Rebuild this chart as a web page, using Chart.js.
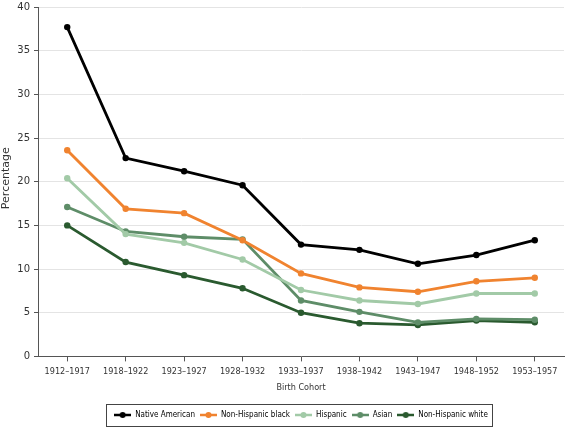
<!DOCTYPE html>
<html>
<head>
<meta charset="utf-8">
<script src="https://cdn.jsdelivr.net/npm/chart.js@4"></script>
<style>
  html, body { margin: 0; padding: 0; background: #fff; }
  #wrap { width: 569px; height: 430px; }
</style>
</head>
<body>
<div id="wrap"><canvas id="chart"></canvas></div>
<script>
// cohorts on the x axis
const cohorts = ['1912–1917', '1918–1922', '1923–1927', '1928–1932', '1933–1937',
  '1938–1942', '1943–1947', '1948–1952', '1953–1957'];

// percentages
const nativeAmerican = [37.7, 22.7, 21.2, 19.6, 12.8, 12.2, 10.6, 11.6, 13.3];
const nhBlack = [23.6, 16.9, 16.4, 13.3, 9.5, 7.9, 7.4, 8.6, 9.0];
const hispanic = [20.4, 14.0, 13.0, 11.1, 7.6, 6.4, 6.0, 7.2, 7.2];
const asian = [17.1, 14.3, 13.7, 13.4, 6.4, 5.1, 3.9, 4.3, 4.2];
const nhWhite = [15.0, 10.8, 9.3, 7.8, 5.0, 3.8, 3.6, 4.1, 3.9];

const yTicks = [0, 5, 10, 15, 20, 25, 30, 35, 40];

// little "line with a dot" marker for the legend
function marker(color) {
  const c = document.createElement('canvas');
  c.width = 17; c.height = 8;
  const g = c.getContext('2d');
  g.strokeStyle = color;
  g.lineWidth = 2.5;
  g.beginPath(); g.moveTo(0, 4); g.lineTo(17, 4); g.stroke();
  g.fillStyle = color;
  g.beginPath(); g.arc(8.5, 4, 3, 0, Math.PI * 2); g.fill();
  return c;
}

function series(label, data, color) {
  return {
    label: label,
    data: data,
    borderColor: color,
    backgroundColor: color,
    borderWidth: 2.8,
    pointRadius: 3.2,
    pointStyle: 'circle',
    legendMarker: marker(color),
    pointBackgroundColor: color,
    pointBorderWidth: 0,
    tension: 0
  };
}

// legend sits under the plot area (not the whole canvas) and has a frame
const legendBox = {
  id: 'legendBox',
  afterUpdate(chart) {
    const lg = chart.legend;
    const shift = (chart.chartArea.left + chart.chartArea.right) / 2 - (lg.left + lg.right) / 2;
    lg.left += shift;
    lg.right += shift;
    // adjustHitBoxes adds to top, so keep the old tops
    const tops = lg.legendHitBoxes.map(h => h.top);
    lg.adjustHitBoxes();
    lg.legendHitBoxes.forEach((h, i) => { h.top = tops[i]; });
  },
  afterDraw(chart) {
    const boxes = chart.legend.legendHitBoxes;
    if (!boxes || !boxes.length) return;
    let l = Infinity, r = -Infinity, t = Infinity;
    boxes.forEach(h => {
      l = Math.min(l, h.left); r = Math.max(r, h.left + h.width);
      t = Math.min(t, h.top);
    });
    const ctx = chart.ctx;
    ctx.save();
    ctx.strokeStyle = '#444';
    ctx.lineWidth = 1;
    ctx.strokeRect(Math.round(l - 8) + 0.5, Math.round(t - 7) + 0.5, Math.round(r - l + 12), 22);
    ctx.restore();
  }
};

const ctx = document.getElementById('chart').getContext('2d');

new Chart(ctx, {
  type: 'line',
  data: {
    labels: cohorts,
    datasets: [
      series('Native American', nativeAmerican, '#000000'),
      series('Non-Hispanic black', nhBlack, '#F0832F'),
      series('Hispanic', hispanic, '#A2CAA7'),
      series('Asian', asian, '#5E8D68'),
      series('Non-Hispanic white', nhWhite, '#2A5A2F')
    ]
  },
  options: {
    responsive: true,
    maintainAspectRatio: false,
    animation: false,
    layout: { padding: { top: 7, right: 5, bottom: 1, left: 0 } },
    plugins: {
      tooltip: { enabled: false },
      legend: {
        position: 'bottom',
        labels: {
          usePointStyle: true,
          pointStyleWidth: 17,
          padding: 5,
          color: '#222',
          font: { family: '"DejaVu Sans Condensed", "DejaVu Sans", sans-serif', size: 8 },
          generateLabels(chart) {
            return chart.data.datasets.map((d, i) => ({
              text: d.label,
              pointStyle: d.legendMarker,
              fillStyle: d.borderColor,
              strokeStyle: d.borderColor,
              lineWidth: 0,
              datasetIndex: i,
              hidden: false
            }));
          }
        }
      }
    },
    scales: {
      x: {
        offset: true,
        grid: { drawOnChartArea: false, offset: false, tickLength: 5, tickColor: '#555' },
        border: { color: '#555', width: 1 },
        ticks: {
          color: '#333',
          maxRotation: 0,
          padding: 5,
          font: { family: '"DejaVu Sans Condensed", "DejaVu Sans", sans-serif', size: 9 }
        },
        title: {
          display: true,
          text: 'Birth Cohort',
          color: '#333',
          padding: { top: 0, bottom: 13 },
          font: { family: '"DejaVu Sans Condensed", "DejaVu Sans", sans-serif', size: 9 }
        }
      },
      y: {
        min: 0,
        max: 40,
        afterBuildTicks(scale) { scale.ticks = yTicks.map(v => ({ value: v })); },
        afterFit(scale) { scale.width = 38; scale.paddingTop = 3; },
        grid: { color: '#e4e4e4', tickColor: '#555', tickLength: 4 },
        border: { color: '#555', width: 1 },
        ticks: {
          color: '#333',
          padding: 4,
          font: { family: '"DejaVu Sans", sans-serif', size: 10 }
        },
        title: {
          display: true,
          text: '  Percentage',
          color: '#333',
          padding: 0,
          font: { family: '"DejaVu Sans", sans-serif', size: 11 }
        }
      }
    }
  },
  plugins: [legendBox]
});
</script>
</body>
</html>
